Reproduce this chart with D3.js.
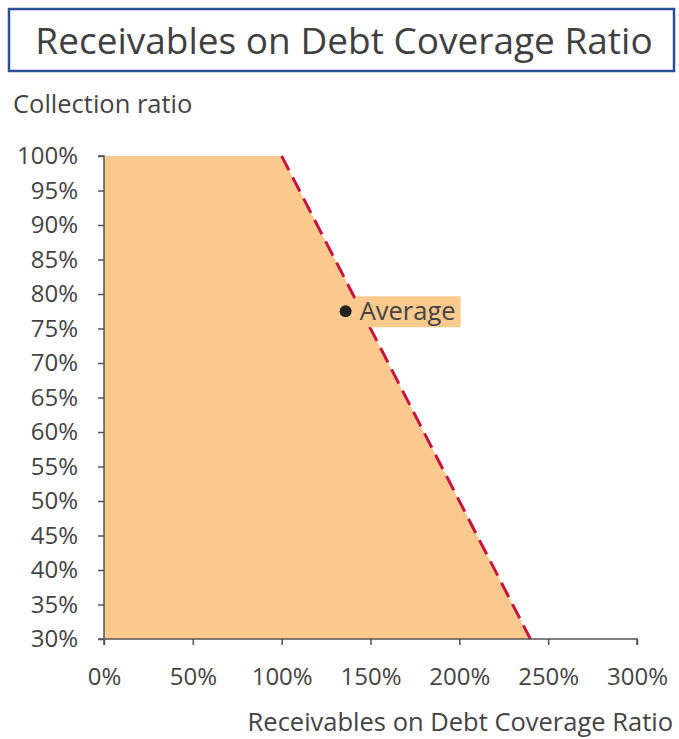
<!DOCTYPE html>
<html>
<head>
<meta charset="utf-8">
<script src="https://cdn.jsdelivr.net/npm/d3@7"></script>
<style>
  body { margin: 0; background: #fff; font-family: "Open Sans", sans-serif; }
  .axis text { font-family: "Open Sans", sans-serif; font-size: 24px; fill: #444; }
  .axis path, .axis line { stroke: #555; stroke-width: 1.5; }
</style>
</head>
<body>
<div id="chart"></div>
<script>
// data
var xTicks = [0, 50, 100, 150, 200, 250, 300];
var yTicks = [30, 35, 40, 45, 50, 55, 60, 65, 70, 75, 80, 85, 90, 95, 100];
var boundaryX = [0, 100, 240];      // coverage ratio %
var boundaryY = [100, 100, 30];     // collection ratio %
var average = {x: 136, y: 77.5, label: "Average"};

var W = 679, H = 739;
var margin = {top: 156, right: 42, bottom: 100, left: 104};
var width = W - margin.left - margin.right,
    height = H - margin.top - margin.bottom;

var svg = d3.select("#chart").append("svg")
  .attr("width", W)
  .attr("height", H);

// title box
svg.append("rect")
  .attr("x", 9).attr("y", 9)
  .attr("width", 665).attr("height", 62)
  .attr("fill", "#fff")
  .attr("stroke", "#2b4f98")
  .attr("stroke-width", 2.5);
svg.append("text")
  .attr("x", 344).attr("y", 54)
  .attr("text-anchor", "middle")
  .attr("font-size", 37)
  .attr("fill", "#404040")
  .text("Receivables on Debt Coverage Ratio");

var g = svg.append("g")
  .attr("transform", "translate(" + margin.left + "," + margin.top + ")");

// scales
var x = d3.scaleLinear().domain([0, 300]).range([0, width]);
var y = d3.scaleLinear().domain([30, 100]).range([height, 0]);

var pts = boundaryX.map(function(d, i) { return {x: d, y: boundaryY[i]}; });

// shaded area
var area = d3.area()
  .x(function(d) { return x(d.x); })
  .y0(height)
  .y1(function(d) { return y(d.y); });
g.append("path")
  .datum(pts)
  .attr("d", area)
  .attr("fill", "#f9c98d");

// dashed boundary (sloped part only)
var line = d3.line()
  .x(function(d) { return x(d.x); })
  .y(function(d) { return y(d.y); });
g.append("path")
  .datum(pts.slice(1))
  .attr("d", line)
  .attr("fill", "none")
  .attr("stroke", "#c4163f")
  .attr("stroke-width", 3)
  .attr("stroke-dasharray", "16,8");

// axes
var xAxis = d3.axisBottom(x)
  .tickValues(xTicks)
  .tickSize(6)
  .tickPadding(23)
  .tickFormat(function(d) { return d + "%"; });
var yAxis = d3.axisLeft(y)
  .tickValues(yTicks)
  .tickSize(6)
  .tickPadding(20)
  .tickFormat(function(d) { return d + "%"; });

g.append("g")
  .attr("class", "x axis")
  .attr("transform", "translate(0," + height + ")")
  .call(xAxis)
  .call(function(s) { s.select(".domain").attr("d", "M0,6V0H" + width + "V6"); });

g.append("g")
  .attr("class", "y axis")
  .call(yAxis)
  .call(function(s) { s.select(".domain").attr("d", "M-6,0H0V" + height + "H-6"); });

// average point + label
var avx = x(average.x), avy = y(average.y);
g.append("rect")
  .attr("x", avx + 10).attr("y", avy - 15)
  .attr("width", 105).attr("height", 31)
  .attr("fill", "#f9c98d");
g.append("circle")
  .attr("cx", avx).attr("cy", avy)
  .attr("r", 6)
  .attr("fill", "#222");
g.append("text")
  .attr("x", avx + 14).attr("y", avy + 9)
  .attr("font-size", 25.5)
  .attr("fill", "#444")
  .text(average.label);

// axis titles
svg.append("text")
  .attr("x", 13).attr("y", 113)
  .attr("font-size", 25.5)
  .attr("fill", "#444")
  .text("Collection ratio");
svg.append("text")
  .attr("x", 673).attr("y", 731)
  .attr("text-anchor", "end")
  .attr("font-size", 25.5)
  .attr("fill", "#444")
  .text("Receivables on Debt Coverage Ratio");
</script>
</body>
</html>
